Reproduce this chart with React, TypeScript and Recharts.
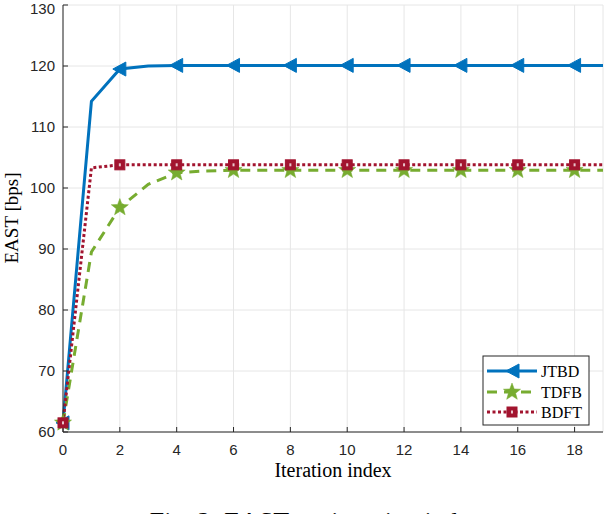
import { CartesianGrid, Line, LineChart, XAxis, YAxis } from "recharts"

const iterations = [0, 1, 2, 3, 4, 5, 6, 7, 8, 9, 10, 11, 12, 13, 14, 15, 16, 17, 18, 19]
const jtbd = [61.5, 114.2, 119.5, 120.0, 120.1, 120.1, 120.1, 120.1, 120.1, 120.1, 120.1, 120.1, 120.1, 120.1, 120.1, 120.1, 120.1, 120.1, 120.1, 120.1]
const tdfb = [61.5, 89.5, 96.8, 100.6, 102.5, 102.8, 102.9, 102.9, 102.9, 102.9, 102.9, 102.9, 102.9, 102.9, 102.9, 102.9, 102.9, 102.9, 102.9, 102.9]
const bdft = [61.5, 103.3, 103.8, 103.8, 103.8, 103.8, 103.8, 103.8, 103.8, 103.8, 103.8, 103.8, 103.8, 103.8, 103.8, 103.8, 103.8, 103.8, 103.8, 103.8]
const xTicks = [0, 2, 4, 6, 8, 10, 12, 14, 16, 18]
const yTicks = [60, 70, 80, 90, 100, 110, 120, 130]

const data = iterations.map((it, i) => ({ it, jtbd: jtbd[i], tdfb: tdfb[i], bdft: bdft[i] }))

const BLUE = "#0072BD"
const GREEN = "#77AC30"
const RED = "#A2142F"
const AXIS = "#262626"

function Triangle({ cx, cy }: { cx: number; cy: number }) {
  return (
    <polygon
      points={`${cx - 7},${cy} ${cx + 6},${cy - 7} ${cx + 6},${cy + 7}`}
      fill={BLUE}
      stroke={BLUE}
      strokeWidth={1}
    />
  )
}

function Star({ cx, cy }: { cx: number; cy: number }) {
  const pts: string[] = []
  for (let k = 0; k < 10; k++) {
    const r = k % 2 === 0 ? 9 : 3.8
    const a = -Math.PI / 2 + (k * Math.PI) / 5
    pts.push(`${cx + r * Math.cos(a)},${cy + r * Math.sin(a)}`)
  }
  return <polygon points={pts.join(" ")} fill={GREEN} stroke={GREEN} strokeWidth={0.5} />
}

function Square({ cx, cy }: { cx: number; cy: number }) {
  return (
    <g>
      <rect x={cx - 5} y={cy - 5} width={10} height={10} fill={RED} stroke={RED} />
      <rect x={cx - 1} y={cy - 1.5} width={2} height={3} fill="#e8c4cb" />
    </g>
  )
}

const markerDot = (Marker: typeof Triangle) => (props: any) => {
  const { cx, cy, index, payload } = props
  if (payload.it % 2 !== 0) return <g key={index} />
  return (
    <g key={index}>
      <Marker cx={cx} cy={cy} />
    </g>
  )
}

const serif = "'Liberation Serif', 'DejaVu Serif', serif"
const sans = "'Liberation Sans', Arial, sans-serif"

export default function App() {
  const tick = { fill: AXIS, fontSize: 15, fontFamily: sans }
  return (
    <div style={{ position: "absolute", left: 0, top: 0, width: 606, height: 514, overflow: "hidden", background: "#fff" }}>
      <LineChart width={606} height={514} data={data} margin={{ top: 5, right: 3, left: 0, bottom: 0 }}>
        <CartesianGrid stroke="#e6e6e6" strokeWidth={1} />
        <XAxis
          dataKey="it"
          type="number"
          domain={[0, 19]}
          ticks={xTicks}
          height={82}
          stroke={AXIS}
          tick={tick}
          tickSize={-5}
          tickMargin={17}
        />
        <XAxis
          xAxisId="top"
          orientation="top"
          dataKey="it"
          type="number"
          domain={[0, 19]}
          ticks={xTicks}
          height={0}
          stroke={AXIS}
          tickSize={-5}
          tickFormatter={() => ""}
        />
        <YAxis
          type="number"
          domain={[60, 130]}
          ticks={yTicks}
          width={63}
          stroke={AXIS}
          tick={tick}
          tickSize={-5}
          tickMargin={13}
        />
        <YAxis
          yAxisId="right"
          orientation="right"
          type="number"
          domain={[60, 130]}
          ticks={yTicks}
          width={0}
          stroke={AXIS}
          tickSize={-5}
          tickFormatter={() => ""}
        />
        <Line
          dataKey="jtbd"
          type="linear"
          stroke={BLUE}
          strokeWidth={3}
          dot={markerDot(Triangle)}
          activeDot={false}
          isAnimationActive={false}
        />
        <Line
          dataKey="tdfb"
          type="linear"
          stroke={GREEN}
          strokeWidth={3}
          strokeDasharray="10 7"
          dot={markerDot(Star)}
          activeDot={false}
          isAnimationActive={false}
        />
        <Line
          dataKey="bdft"
          type="linear"
          stroke={RED}
          strokeWidth={3}
          strokeDasharray="3 2.5"
          dot={markerDot(Square)}
          activeDot={false}
          isAnimationActive={false}
        />
      </LineChart>
      <svg width={606} height={514} style={{ position: "absolute", left: 0, top: 0, pointerEvents: "none" }}>
        <text x={333} y={477} textAnchor="middle" fontFamily={serif} fontSize={20} fill="#000">
          Iteration index
        </text>
        <text
          x={0}
          y={0}
          transform="translate(18,218) rotate(-90)"
          textAnchor="middle"
          fontFamily={serif}
          fontSize={19}
          fill="#000"
        >
          EAST [bps]
        </text>
        {/* caption sits at the bottom edge, cut off like in the source figure */}
        <text x={316} y={530} textAnchor="middle" fontFamily={serif} fontSize={26} fill="#000">
          Fig. 2: EAST vs. iteration index
        </text>
        <g>
          <rect x={483} y={356} width={106} height={69} fill="#fff" stroke={AXIS} strokeWidth={1} />
          <line x1={487} y1={371} x2={537} y2={371} stroke={BLUE} strokeWidth={3} />
          <Triangle cx={513} cy={371} />
          <text x={541} y={377} fontFamily={serif} fontSize={16} fill="#000">JTBD</text>
          <line x1={487} y1={392} x2={537} y2={392} stroke={GREEN} strokeWidth={3} strokeDasharray="10 7" />
          <Star cx={512} cy={392} />
          <text x={541} y={398} fontFamily={serif} fontSize={16} fill="#000">TDFB</text>
          <line x1={487} y1={412} x2={537} y2={412} stroke={RED} strokeWidth={3} strokeDasharray="3 2.5" />
          <Square cx={512} cy={412} />
          <text x={541} y={418} fontFamily={serif} fontSize={16} fill="#000">BDFT</text>
        </g>
      </svg>
    </div>
  )
}
